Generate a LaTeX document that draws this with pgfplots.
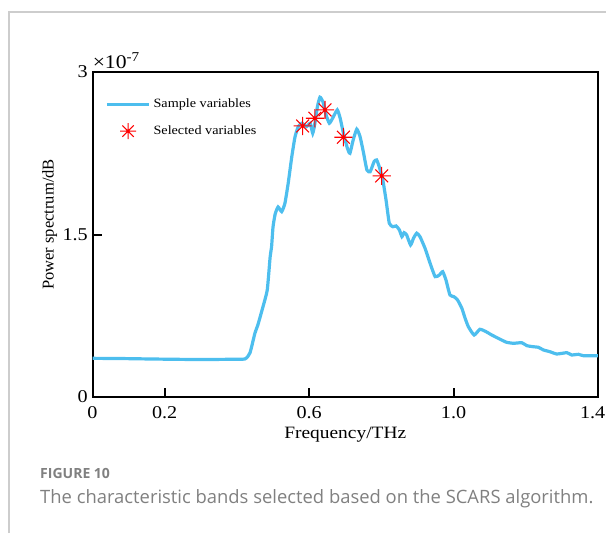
\documentclass[border=0pt]{standalone}
\usepackage{pgfplots}
\pgfplotsset{compat=1.18}
\usepackage{fontspec}
\setmainfont{Liberation Serif}[FakeStretch=1.12]
\newfontfamily\ylabfont{Liberation Serif}
\newfontfamily\capfont{Open Sans}

\definecolor{specblue}{RGB}{77,190,238}
\definecolor{capgray}{RGB}{128,128,128}
\definecolor{framegray}{RGB}{205,205,205}

% asterisk with eight arms and a dot in the middle
\pgfdeclareplotmark{star8}{%
  \pgfpathmoveto{\pgfqpoint{-\pgfplotmarksize}{0pt}}%
  \pgfpathlineto{\pgfqpoint{\pgfplotmarksize}{0pt}}%
  \pgfpathmoveto{\pgfqpoint{0pt}{-\pgfplotmarksize}}%
  \pgfpathlineto{\pgfqpoint{0pt}{\pgfplotmarksize}}%
  \pgfpathmoveto{\pgfqpoint{-0.707\pgfplotmarksize}{-0.707\pgfplotmarksize}}%
  \pgfpathlineto{\pgfqpoint{0.707\pgfplotmarksize}{0.707\pgfplotmarksize}}%
  \pgfpathmoveto{\pgfqpoint{-0.707\pgfplotmarksize}{0.707\pgfplotmarksize}}%
  \pgfpathlineto{\pgfqpoint{0.707\pgfplotmarksize}{-0.707\pgfplotmarksize}}%
  \pgfusepathqstroke
  \pgfpathcircle{\pgfpointorigin}{0.17\pgfplotmarksize}%
  \pgfusepathqfill
}

\begin{document}
\begin{tikzpicture}
\useasboundingbox (-69.375pt,-102pt) rectangle (385.125pt,297.75pt);
% page frame
\draw[framegray, line width=0.8pt] (-62.6pt,-102pt) -- (-62.6pt,288.75pt) -- (385.125pt,288.75pt);

\begin{axis}[
    name=ax,
    at={(0pt,0pt)}, anchor=south west,
    scale only axis,
    width=379.1pt, height=243.75pt,
    xmin=0, xmax=1.4,
    ymin=0, ymax=3,
    xtick={0,0.2,0.6,1.0,1.4},
    xticklabels={0,0.2,0.6,1.0,1.4\hspace*{8pt}},
    ytick={0,1.5,3},
    yticklabels={0,1.5,3},
    tick pos=left,
    tick align=inside,
    major tick length=7pt,
    axis line style={line width=1.5pt},
    every tick/.style={black, line width=1.5pt},
    /pgf/number format/assume math mode=true,
    ticklabel style={font=\fontsize{13.5}{15}\selectfont},
    xticklabel style={yshift=-3.5pt},
    xlabel={Frequency/THz},
    xlabel style={at={(axis description cs:0.5,0)}, anchor=north, yshift=-19pt,
        font=\fontsize{13}{15}\selectfont},
    ylabel={Power spectrum/dB},
    ylabel style={at={(axis description cs:-0.085,0.531)}, anchor=center,
        font=\ylabfont\fontsize{12.4}{14}\selectfont},
    legend style={at={(axis description cs:0,1)}, anchor=north west,
        xshift=9.4pt, yshift=-18pt, draw=none, fill=none,
        font=\fontsize{9.5}{11}\selectfont, row sep=8pt,
        inner sep=0pt},
    legend cell align=left,
]
\addplot[specblue, line width=2.4pt, smooth, tension=0.3,
    legend image code/.code={\draw[specblue, line width=2.2pt] (0pt,0pt) -- (32pt,0pt);}]
coordinates {
(0.000,0.357) (0.080,0.355) (0.159,0.351) (0.230,0.348) (0.298,0.346)
(0.380,0.348) (0.422,0.351) (0.436,0.406) (0.450,0.591) (0.458,0.665)
(0.472,0.831) (0.484,0.988) (0.492,1.293) (0.496,1.388) (0.500,1.570)
(0.506,1.690) (0.514,1.754) (0.524,1.711) (0.533,1.789) (0.542,1.973)
(0.552,2.219) (0.561,2.403) (0.570,2.496) (0.580,2.527) (0.593,2.496)
(0.603,2.527) (0.610,2.435) (0.616,2.527) (0.623,2.681) (0.630,2.767)
(0.638,2.727) (0.647,2.604) (0.656,2.527) (0.665,2.573) (0.678,2.650)
(0.686,2.573) (0.695,2.435) (0.706,2.296) (0.713,2.250) (0.722,2.373)
(0.732,2.472) (0.741,2.404) (0.750,2.265) (0.760,2.096) (0.769,2.080)
(0.780,2.173) (0.787,2.188) (0.794,2.127) (0.804,2.004) (0.813,1.819)
(0.822,1.604) (0.832,1.572) (0.841,1.579) (0.850,1.542) (0.857,1.480)
(0.863,1.517) (0.870,1.496) (0.881,1.404) (0.889,1.465) (0.898,1.512)
(0.907,1.480) (0.921,1.373) (0.935,1.235) (0.949,1.111) (0.961,1.127)
(0.970,1.157) (0.979,1.080) (0.990,0.942) (1.001,0.926) (1.011,0.896)
(1.023,0.819) (1.032,0.727) (1.041,0.649) (1.057,0.572) (1.073,0.625)
(1.090,0.603) (1.106,0.572) (1.129,0.533) (1.147,0.505) (1.166,0.496)
(1.189,0.501) (1.203,0.474) (1.221,0.464) (1.235,0.459) (1.249,0.434)
(1.267,0.418) (1.286,0.397) (1.314,0.409) (1.327,0.388) (1.346,0.394)
(1.360,0.381) (1.400,0.381)
};
\addlegendentry{Sample variables}
\addplot[only marks, mark=star8, mark size=6.8pt, red, line width=0.8pt,
    legend image code/.code={\draw[red, line width=0.8pt] plot[mark=star8, mark size=6pt] coordinates {(16pt,0pt)};}]
coordinates {
(0.582,2.502) (0.616,2.573) (0.644,2.650) (0.695,2.398) (0.801,2.041)
};
\addlegendentry{Selected variables}
\end{axis}

\node[anchor=base west, inner sep=0pt, yshift=3pt, font=\fontsize{14.5}{16}\selectfont]
    at (ax.north west) {×10\textsuperscript{-7}};

% caption
\node[anchor=base west, inner sep=0pt, text=capgray, font=\capfont\bfseries\fontsize{10.5}{13}\selectfont]
    at (-39.4pt,-60.75pt) {FIGURE 10};
\node[anchor=base west, inner sep=0pt, text=capgray, font=\capfont\fontsize{13.8}{16}\selectfont]
    at (-39.4pt,-79.5pt) {The characteristic bands selected based on the SCARS algorithm.};
\end{tikzpicture}
\end{document}
